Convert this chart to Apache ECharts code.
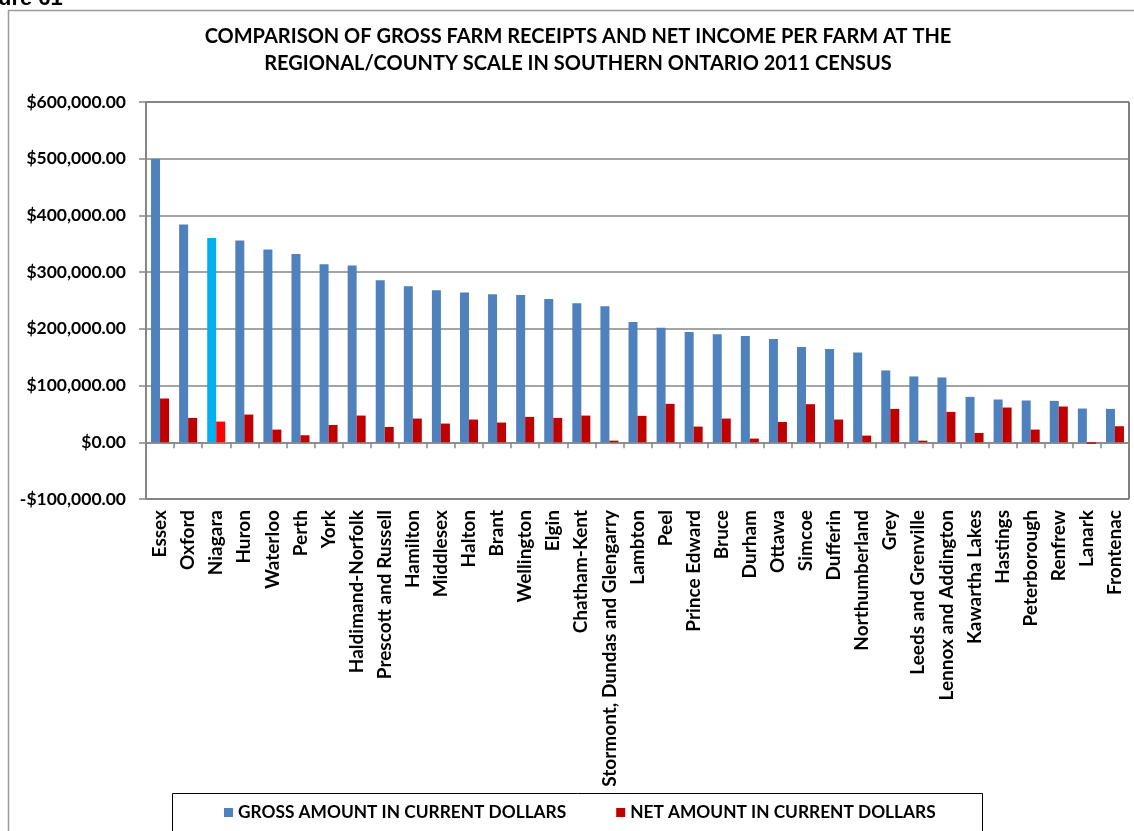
<!DOCTYPE html>
<html>
<head>
<meta charset="utf-8">
<script src="https://cdn.jsdelivr.net/npm/echarts@6/dist/echarts.min.js"></script>
<style>
html,body{margin:0;padding:0;background:#fff;}
#chart{width:1134px;height:831px;}
</style>
</head>
<body>
<div id="chart"></div>
<script>
const categories = ["Essex","Oxford","Niagara","Huron","Waterloo","Perth","York","Haldimand-Norfolk","Prescott and Russell","Hamilton","Middlesex","Halton","Brant","Wellington","Elgin","Chatham-Kent","Stormont, Dundas and Glengarry","Lambton","Peel","Prince Edward","Bruce","Durham","Ottawa","Simcoe","Dufferin","Northumberland","Grey","Leeds and Grenville","Lennox and Addington","Kawartha Lakes","Hastings","Peterborough","Renfrew","Lanark","Frontenac"];
const grossValues = [499500,384200,360000,355900,340000,331800,314100,311700,285800,275200,268100,264000,261000,259900,252800,245200,239800,212100,202100,194400,190300,187400,182100,167900,164400,158500,126700,116100,114300,80100,75400,73700,73000,59500,58900];
const netValues = [77200,43000,36500,48900,22400,12400,30600,47100,27100,41800,33000,40100,34800,44800,43000,47100,2900,46600,67800,27700,41800,6500,35900,67200,40100,11800,58900,2900,53600,16500,61300,22400,63100,-2500,28300];
const highlightCategory = "Niagara";
const seriesNames = ["GROSS AMOUNT IN CURRENT DOLLARS","NET AMOUNT IN CURRENT DOLLARS"];
const titleLines = ["COMPARISON OF GROSS FARM RECEIPTS AND NET INCOME PER FARM AT THE","REGIONAL/COUNTY SCALE IN SOUTHERN ONTARIO 2011 CENSUS"];

const FONT = "Lato";
const grossColor = "#4F81BD", netColor = "#C00000";
const grossHi = "#00B0F0", netHi = "#FF0000";

function fmt(v){
  const neg = v < 0;
  const s = Math.abs(v).toFixed(2).replace(/\B(?=(\d{3})+(?!\d))/g, ",");
  return (neg ? "-$" : "$") + s;
}

const grossData = grossValues.map((v,i)=> categories[i]===highlightCategory ? {value:v,itemStyle:{color:grossHi}} : v);
const netData = netValues.map((v,i)=> categories[i]===highlightCategory ? {value:v,itemStyle:{color:netHi}} : v);

const chart = echarts.init(document.getElementById('chart'), null, {renderer:'canvas'});
chart.setOption({
  animation:false,
  backgroundColor:'#fff',
  graphic:[
    {type:'rect',shape:{x:8.5,y:10.5,width:1200,height:900},style:{fill:null,stroke:'#9a9a9a',lineWidth:1.5},z:-1},
    {type:'text',x:-2,y:-12,style:{text:'ure 61',font:'bold 22px "Liberation Sans"',fill:'#000'}},
    {type:'text',x:578,y:37,style:{text:titleLines[0],font:'bold 20px "Lato"',fill:'#000',align:'center',verticalAlign:'middle'}},
    {type:'text',x:578,y:64,style:{text:titleLines[1],font:'bold 20px "Lato"',fill:'#000',align:'center',verticalAlign:'middle'}},
    {type:'rect',shape:{x:172.5,y:793.5,width:810,height:60},style:{fill:'#fff',stroke:'#000',lineWidth:1},z:-1}
  ],
  legend:{
    data: seriesNames,
    top: 799,
    left: 219,
    itemWidth: 9, itemHeight: 9, itemGap: 50,
    icon:'rect',
    textStyle:{fontFamily:FONT,fontWeight:'bold',fontSize:17.3,color:'#000'}
  },
  grid:{left:146,right:5,top:102,bottom:332,show:true,borderColor:'#000',borderWidth:1,containLabel:false},
  xAxis:[
    {type:'category',data:categories,gridIndex:0,position:'bottom',
     axisLine:{onZero:true,lineStyle:{color:'#868686',width:1.5}},
     axisTick:{show:true,inside:false,length:6,interval:0,lineStyle:{color:'#868686',width:1.5}},
     axisLabel:{show:false},splitLine:{show:false}},
    {type:'category',data:categories,gridIndex:0,position:'bottom',
     axisLine:{show:false,onZero:false},axisTick:{show:false},
     axisLabel:{show:true,rotate:90,margin:11,interval:0,fontFamily:FONT,fontWeight:'bold',fontSize:19,color:'#000'}}
  ],
  yAxis:{
    type:'value',min:-100000,max:600000,interval:100000,
    axisLine:{show:true,lineStyle:{color:'#868686',width:2}},
    axisTick:{show:true,length:7,lineStyle:{color:'#868686',width:1.5}},
    axisLabel:{formatter:fmt,margin:20,fontFamily:FONT,fontWeight:'bold',fontSize:17.5,color:'#000'},
    splitLine:{show:true,lineStyle:{color:'#868686',width:1.5}}
  },
  series:[
    {name:seriesNames[0],type:'bar',xAxisIndex:0,data:grossData,barWidth:9,barGap:'0%',itemStyle:{color:grossColor}},
    {name:seriesNames[1],type:'bar',xAxisIndex:0,data:netData,barWidth:9,barGap:'0%',itemStyle:{color:netColor}}
  ]
});
</script>
</body>
</html>
